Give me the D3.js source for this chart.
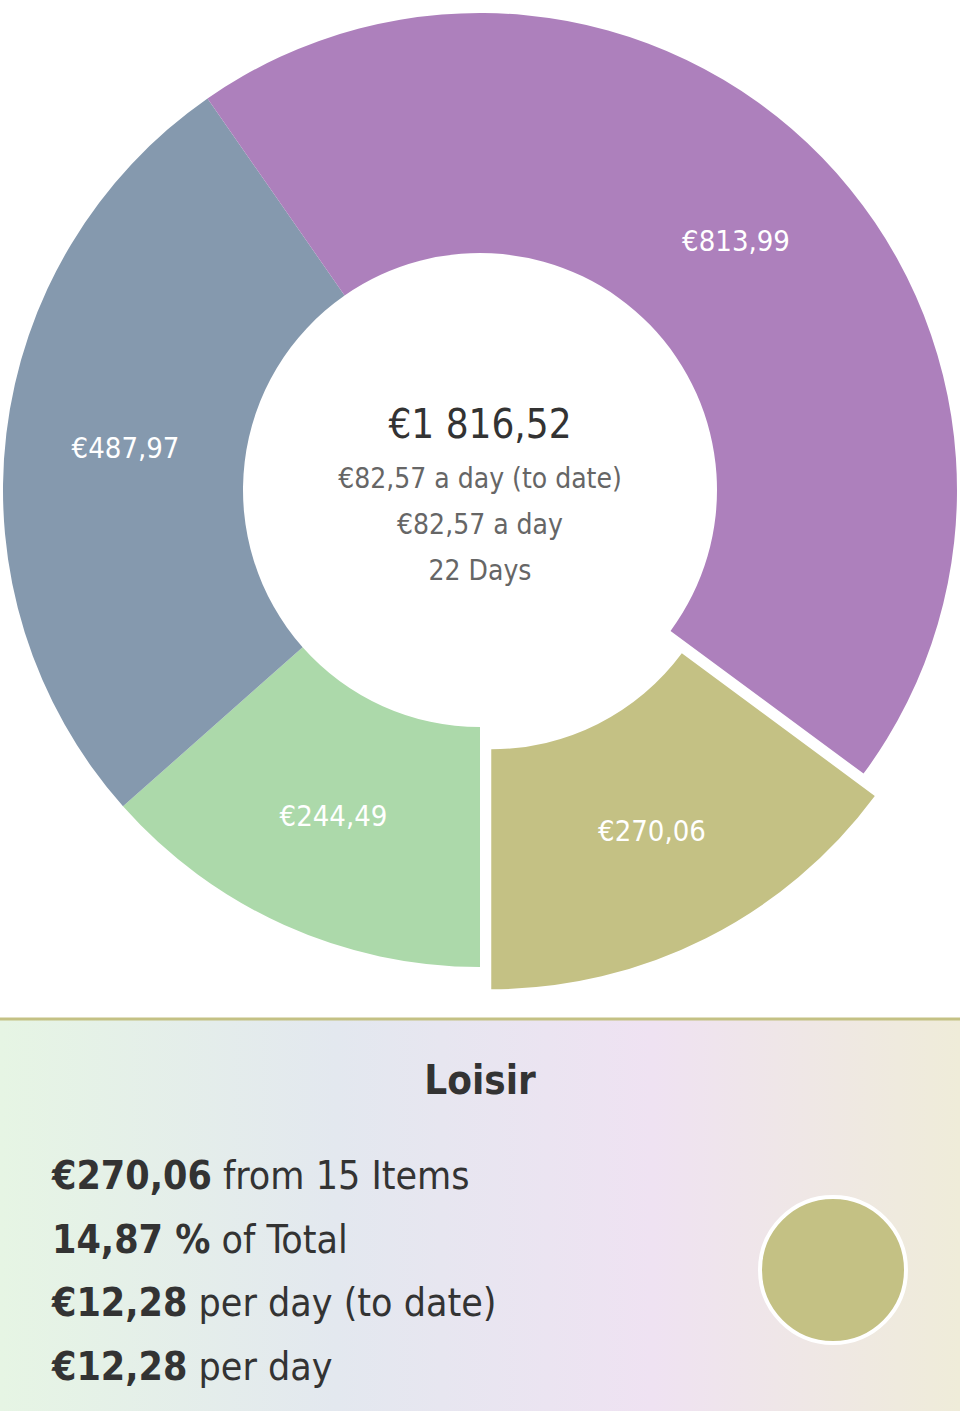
<!DOCTYPE html>
<html><head><meta charset="utf-8">
<script src="https://cdn.jsdelivr.net/npm/d3@7"></script>
<style>body{margin:0;background:#fff;} text{font-family:"DejaVu Sans Condensed","Liberation Sans Narrow",sans-serif;}</style>
</head><body>
<script>
var width = 960, height = 1411;

// data, in drawing order starting at the bottom and going clockwise
var categories = ["Green", "Blue", "Purple", "Loisir"],
  values = [244.49, 487.97, 813.99, 270.06],
  labels = ["€244,49", "€487,97", "€813,99", "€270,06"],
  colors = ["#acd9aa", "#8599ae", "#ad80bc", "#c4c184"];
var centerLines = ["€82,57 a day (to date)", "€82,57 a day", "22 Days"];
var detailValues = ["€270,06", "14,87 %", "€12,28", "€12,28"],
  detailTexts = [" from 15 Items", " of Total", " per day (to date)", " per day"];
var selected = 3;

var svg = d3.select("body").append("svg")
  .attr("width", width).attr("height", height);

var cx = 480, cy = 490, outerR = 477, innerR = 237;

var pie = d3.pie().sort(null).startAngle(Math.PI).endAngle(3 * Math.PI);
var arc = d3.arc().innerRadius(innerR).outerRadius(outerR);
var arcs = pie(values);

var g = svg.append("g").attr("transform", "translate(" + cx + "," + cy + ")");

var slice = g.selectAll(".slice").data(arcs).enter().append("g")
  .attr("class", "slice")
  .attr("transform", function(d, i) {
    if (i !== selected) return null;
    var a = (d.startAngle + d.endAngle) / 2;
    return "translate(" + (Math.sin(a) * 25) + "," + (-Math.cos(a) * 25) + ")";
  });

slice.append("path")
  .attr("d", arc)
  .attr("fill", function(d, i) { return colors[i]; });

slice.append("text")
  .attr("transform", function(d) { return "translate(" + arc.centroid(d) + ")"; })
  .attr("text-anchor", "middle").attr("dy", "0.35em")
  .attr("fill", "#fff").attr("font-size", 29)
  .text(function(d, i) { return labels[i]; });

// center text
g.append("text").attr("text-anchor", "middle").attr("y", -52)
  .attr("font-size", 40).attr("fill", "#333")
  .text("€1 816,52");
g.selectAll(".cl").data(centerLines).enter().append("text")
  .attr("class", "cl").attr("text-anchor", "middle")
  .attr("y", function(d, i) { return -2 + i * 46; })
  .attr("font-size", 28).attr("fill", "#666")
  .text(function(d) { return d; });

// detail panel
var defs = svg.append("defs");
var grad = defs.append("linearGradient").attr("id", "bg");
[["0%", "#e6f5e4"], ["35%", "#e3e8ef"], ["68%", "#efe2f2"], ["100%", "#efecd9"]].forEach(function(s) {
  grad.append("stop").attr("offset", s[0]).attr("stop-color", s[1]);
});
svg.append("rect").attr("x", 0).attr("y", 1018).attr("width", width).attr("height", height - 1018)
  .attr("fill", "url(#bg)");
svg.append("line").attr("x1", 0).attr("x2", width).attr("y1", 1019).attr("y2", 1019)
  .attr("stroke", colors[selected]).attr("stroke-width", 3);

svg.append("text").attr("x", 480).attr("y", 1094).attr("text-anchor", "middle")
  .attr("font-size", 40).attr("font-weight", "bold").attr("fill", "#333")
  .text(categories[selected]);

var rows = svg.selectAll(".row").data(detailValues).enter().append("text")
  .attr("class", "row").attr("x", 52)
  .attr("y", function(d, i) { return 1189 + i * 63.5; })
  .attr("font-size", 39).attr("fill", "#333");
rows.append("tspan").attr("font-weight", "bold").text(function(d) { return d; });
rows.append("tspan").text(function(d, i) { return detailTexts[i]; });

svg.append("circle").attr("cx", 833).attr("cy", 1270).attr("r", 73)
  .attr("fill", colors[selected]).attr("stroke", "#fff").attr("stroke-width", 4);
</script>
</body></html>
